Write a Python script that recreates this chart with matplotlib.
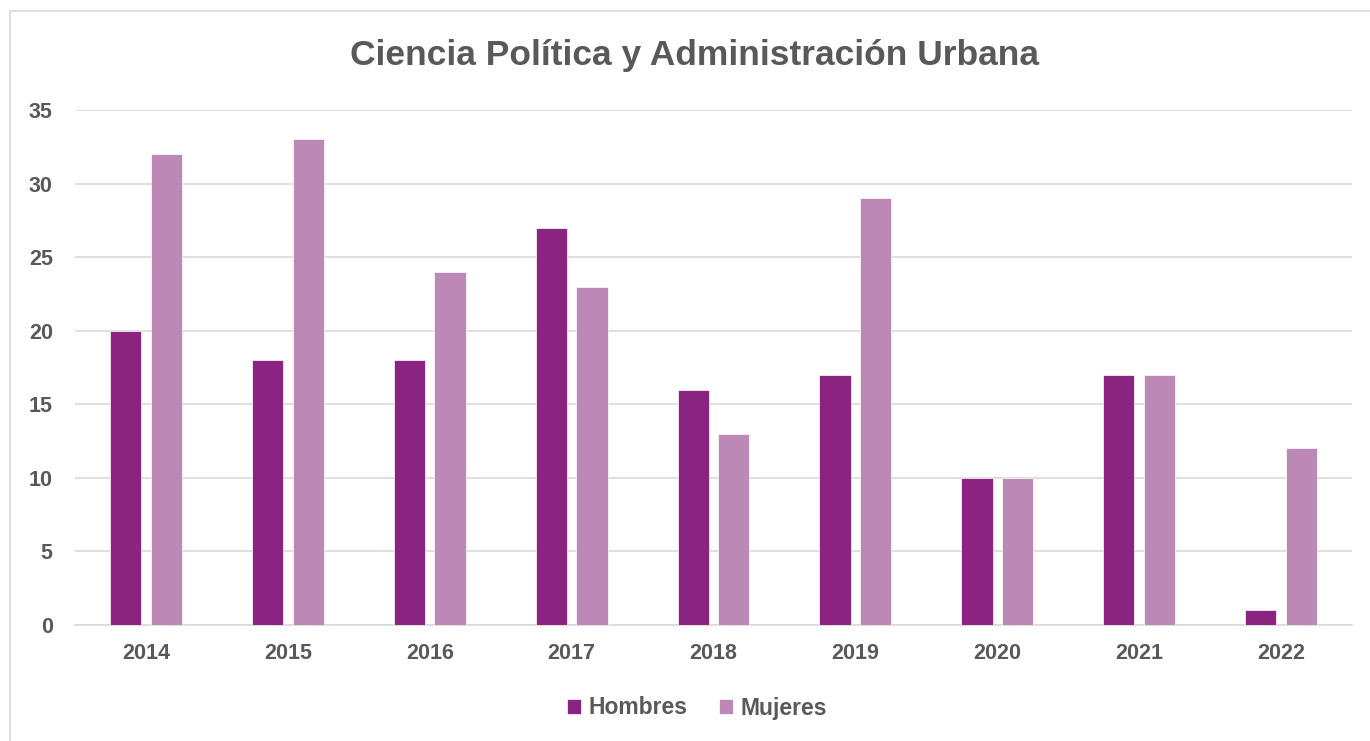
import matplotlib
matplotlib.use("Agg")
import matplotlib.pyplot as plt
import numpy as np
from matplotlib.patches import Rectangle

years = ["2014", "2015", "2016", "2017", "2018", "2019", "2020", "2021", "2022"]
hombres = [20, 18, 18, 27, 16, 17, 10, 17, 1]
mujeres = [32, 33, 24, 23, 13, 29, 10, 17, 12]
title = "Ciencia Política y Administración Urbana"

plt.rcParams['font.family'] = ['Liberation Sans', 'DejaVu Sans']
txt = "#595959"
c_h = "#8B2380"
c_m = "#BC88B6"

W, H = 1370, 741
fig = plt.figure(figsize=(W/100, H/100), dpi=100)
fig.patches.append(Rectangle((10/W, -0.1), (W+20)/W, 1.1 - 11/H, transform=fig.transFigure,
                             fill=False, edgecolor="#D9D9D9", linewidth=1.2, clip_on=False))

ax = fig.add_axes([75/W, (H-625)/H, 1277/W, 515/H])
x = np.arange(len(years))
bw = 0.22
off = 0.143
ax.bar(x - off, hombres, bw, color=c_h, label="Hombres", zorder=3, edgecolor="white", linewidth=0.5)
ax.bar(x + off, mujeres, bw, color=c_m, label="Mujeres", zorder=3, edgecolor="white", linewidth=0.5)

ax.set_xlim(-0.5, len(years) - 0.5)
ax.set_ylim(0, 35)
ax.set_yticks(range(0, 36, 5))
ax.set_xticks(x)
ax.set_xticklabels(years)
ax.grid(axis='y', color="#D9D9D9", linewidth=1.2, zorder=0)
for s in ["top", "right", "left"]:
    ax.spines[s].set_visible(False)
ax.spines["bottom"].set_color("#D9D9D9")
ax.spines["bottom"].set_linewidth(1.2)
ax.tick_params(axis='both', length=0, labelsize=15.5, colors=txt)
ax.tick_params(axis='y', pad=16)
ax.tick_params(axis='x', pad=13)
for lab in ax.get_xticklabels() + ax.get_yticklabels():
    lab.set_fontweight('bold')

fig.text(695/W, 1 - 56/H, title, ha='center', va='center', fontsize=25.5,
         fontweight='bold', color=txt)

leg = fig.legend(loc='center', bbox_to_anchor=(697/W, 1 - 708/H), ncol=2, frameon=False,
                 prop={'weight': 'bold', 'size': 16.5}, labelcolor=txt,
                 handlelength=0.62, handleheight=0.62, handletextpad=0.3, columnspacing=1.4)

fig.savefig("out.png", dpi=100)
